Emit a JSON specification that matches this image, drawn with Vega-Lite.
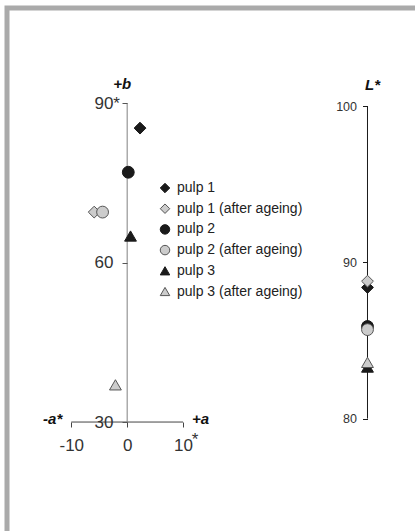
{
  "$schema": "https://vega.github.io/schema/vega-lite/v6.json",
  "width": 408,
  "height": 523,
  "autosize": {"type": "none"},
  "padding": {"left": 7, "top": 8, "right": 0, "bottom": 0},
  "background": "white",
  "config": {
    "view": {"stroke": "#aaaaaa", "strokeWidth": 5, "strokeDash": [408, 931, 523]},
    "font": "Liberation Sans",
    "axis": {"grid": false, "domain": false, "labelFont": "Liberation Sans"},
    "text": {"font": "Liberation Sans"}
  },
  "datasets": {
    "pts": [
      {"series": "pulp 1", "a": 2.3, "b": 85.3, "L": 88.4},
      {"series": "pulp 1 (after ageing)", "a": -5.9, "b": 69.5, "L": 88.8},
      {"series": "pulp 2", "a": 0.2, "b": 77.0, "L": 85.9},
      {"series": "pulp 2 (after ageing)", "a": -4.4, "b": 69.5, "L": 85.7},
      {"series": "pulp 3", "a": 0.6, "b": 65.0, "L": 83.3},
      {"series": "pulp 3 (after ageing)", "a": -2.1, "b": 37.0, "L": 83.6}
    ]
  },
  "layer": [
    {
      "layer": [
        {
          "data": {"values": [{"a1": -10, "a2": 10, "b1": 30, "b2": 30}]},
          "mark": {"type": "rule", "color": "#444444", "strokeWidth": 1},
          "encoding": {
            "x": {"field": "a1", "type": "quantitative", "title": null, "scale": {"domain": [-21.5, 51.5], "nice": false, "zero": false},
                  "axis": {"orient": "bottom", "offset": -109, "values": [-10, 0, 10], "labelExpr": "'' + datum.value", "tickSize": 5, "tickColor": "#444444", "labelFontSize": 17, "labelColor": "#333333", "labelPadding": 10, "zindex": 1}},
            "x2": {"field": "a2"},
            "y": {"field": "b1", "type": "quantitative", "title": null, "scale": {"domain": [9.5, 107.9], "nice": false, "zero": false},
                  "axis": {"orient": "left", "offset": -120, "values": [30, 60, 90], "tickSize": 5, "tickColor": "#555555", "labelFontSize": 17, "labelColor": "#333333", "labelPadding": 9, "zindex": 1}},
            "y2": {"field": "b2"}
          }
        },
        {
          "data": {"values": [{"a1": 0, "a2": 0, "b1": 30, "b2": 90}]},
          "mark": {"type": "rule", "color": "#808080", "strokeWidth": 1},
          "encoding": {
            "x": {"field": "a1", "type": "quantitative", "title": null},
            "x2": {"field": "a2"},
            "y": {"field": "b1", "type": "quantitative", "title": null},
            "y2": {"field": "b2"}
          }
        },
        {
          "data": {"name": "pts"},
          "mark": {"type": "point", "filled": true, "size": 140, "strokeWidth": 1, "opacity": 1},
          "encoding": {
            "x": {"field": "a", "type": "quantitative", "title": null},
            "y": {"field": "b", "type": "quantitative", "title": null},
            "shape": {"field": "series", "type": "nominal", "title": null,
              "scale": {"domain": ["pulp 1", "pulp 1 (after ageing)", "pulp 2", "pulp 2 (after ageing)", "pulp 3", "pulp 3 (after ageing)"],
                        "range": ["diamond", "diamond", "circle", "circle", "triangle-up", "triangle-up"]},
              "legend": {"orient": "none", "legendX": 151, "legendY": 173, "padding": 0, "labelFontSize": 14, "labelColor": "#222222", "labelFont": "Liberation Sans", "symbolSize": 90, "symbolStrokeWidth": 1, "rowPadding": 6.7, "labelOffset": 5}},
            "fill": {"field": "series", "type": "nominal", "title": null,
              "scale": {"domain": ["pulp 1", "pulp 1 (after ageing)", "pulp 2", "pulp 2 (after ageing)", "pulp 3", "pulp 3 (after ageing)"],
                        "range": ["#1a1a1a", "#cccccc", "#1a1a1a", "#cccccc", "#1a1a1a", "#cccccc"]},
              "legend": {"orient": "none", "legendX": 151, "legendY": 173, "padding": 0, "labelFontSize": 14, "labelColor": "#222222", "labelFont": "Liberation Sans", "symbolSize": 90, "symbolStrokeWidth": 1, "rowPadding": 6.7, "labelOffset": 5}},
            "stroke": {"field": "series", "type": "nominal", "title": null,
              "scale": {"domain": ["pulp 1", "pulp 1 (after ageing)", "pulp 2", "pulp 2 (after ageing)", "pulp 3", "pulp 3 (after ageing)"],
                        "range": ["#1a1a1a", "#555555", "#1a1a1a", "#555555", "#1a1a1a", "#555555"]},
              "legend": {"orient": "none", "legendX": 151, "legendY": 173, "padding": 0, "labelFontSize": 14, "labelColor": "#222222", "labelFont": "Liberation Sans", "symbolSize": 90, "symbolStrokeWidth": 1, "rowPadding": 6.7, "labelOffset": 5}}
          }
        },
        {
          "data": {"values": [{"label": "+b", "a": 0, "b": 90}]},
          "mark": {"type": "text", "fontSize": 15, "fontWeight": "bold", "fontStyle": "italic", "color": "#111111", "align": "center", "baseline": "middle", "dx": -5, "dy": -19},
          "encoding": {
            "x": {"field": "a", "type": "quantitative", "title": null},
            "y": {"field": "b", "type": "quantitative", "title": null},
            "text": {"field": "label"}
          }
        },
        {
          "data": {"values": [{"label": "-a*", "a": -10, "b": 30}]},
          "mark": {"type": "text", "fontSize": 15, "fontWeight": "bold", "fontStyle": "italic", "color": "#111111", "align": "right", "baseline": "middle", "dx": -9, "dy": -3},
          "encoding": {
            "x": {"field": "a", "type": "quantitative", "title": null},
            "y": {"field": "b", "type": "quantitative", "title": null},
            "text": {"field": "label"}
          }
        },
        {
          "data": {"values": [{"label": "+a", "a": 10, "b": 30}]},
          "mark": {"type": "text", "fontSize": 15, "fontWeight": "bold", "fontStyle": "italic", "color": "#111111", "align": "left", "baseline": "middle", "dx": 9, "dy": -3},
          "encoding": {
            "x": {"field": "a", "type": "quantitative", "title": null},
            "y": {"field": "b", "type": "quantitative", "title": null},
            "text": {"field": "label"}
          }
        },
        {
          "data": {"values": [{"label": "*", "a": 10, "b": 30}]},
          "mark": {"type": "text", "fontSize": 17, "color": "#333333", "align": "center", "baseline": "alphabetic", "dx": 12, "dy": 23},
          "encoding": {
            "x": {"field": "a", "type": "quantitative", "title": null},
            "y": {"field": "b", "type": "quantitative", "title": null},
            "text": {"field": "label"}
          }
        },
        {
          "data": {"values": [{"label": "*", "a": 0, "b": 90}]},
          "mark": {"type": "text", "fontSize": 17, "color": "#333333", "align": "center", "baseline": "alphabetic", "dx": -10.5, "dy": 6},
          "encoding": {
            "x": {"field": "a", "type": "quantitative", "title": null},
            "y": {"field": "b", "type": "quantitative", "title": null},
            "text": {"field": "label"}
          }
        }
      ]
    },
    {
      "layer": [
        {
          "data": {"values": [{"L1": 80, "L2": 100}]},
          "mark": {"type": "rule", "color": "#1a1a1a", "strokeWidth": 1},
          "encoding": {
            "x": {"datum": 43, "type": "quantitative"},
            "y": {"field": "L1", "type": "quantitative", "title": null, "scale": {"domain": [72.8, 106.3], "nice": false, "zero": false},
                  "axis": {"orient": "left", "offset": -360.5, "values": [80, 90, 100], "tickSize": 5, "tickColor": "#1a1a1a", "labelFontSize": 12.5, "labelColor": "#333333", "labelPadding": 6, "zindex": 1}},
            "y2": {"field": "L2"}
          }
        },
        {
          "data": {"name": "pts"},
          "mark": {"type": "point", "filled": true, "size": 140, "strokeWidth": 1, "opacity": 1},
          "encoding": {
            "x": {"datum": 43, "type": "quantitative"},
            "y": {"field": "L", "type": "quantitative", "title": null},
            "shape": {"field": "series", "type": "nominal", "title": null},
            "fill": {"field": "series", "type": "nominal", "title": null},
            "stroke": {"field": "series", "type": "nominal", "title": null}
          }
        },
        {
          "data": {"values": [{"label": "L*", "L": 100}]},
          "mark": {"type": "text", "fontSize": 15, "fontWeight": "bold", "fontStyle": "italic", "color": "#111111", "align": "center", "baseline": "middle", "dx": 5, "dy": -21},
          "encoding": {
            "x": {"datum": 43, "type": "quantitative"},
            "y": {"field": "L", "type": "quantitative", "title": null},
            "text": {"field": "label"}
          }
        }
      ]
    }
  ],
  "resolve": {"scale": {"y": "independent"}, "axis": {"y": "independent"}}
}
